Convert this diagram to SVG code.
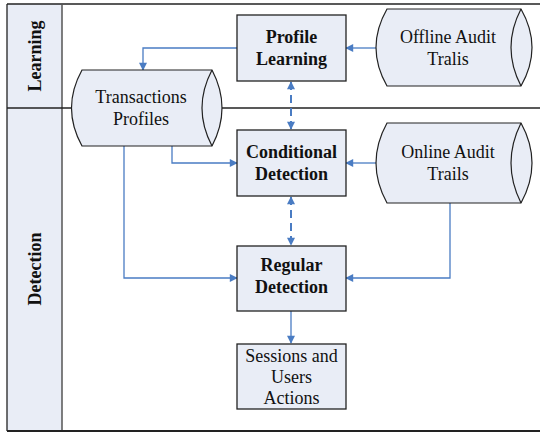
<svg xmlns="http://www.w3.org/2000/svg" width="540" height="433" viewBox="0 0 540 433">
  <defs>
    <marker id="arr" viewBox="0 0 10 10" refX="9" refY="5" markerWidth="9" markerHeight="8" markerUnits="userSpaceOnUse" orient="auto-start-reverse">
      <path d="M0,0 L10,5 L0,10 z" fill="#4a7cc3"/>
    </marker>
    <style>
      .lane { fill: #e9edf6; stroke: none; }
      .frame { stroke: #222; stroke-width: 1.3; fill: none; }
      .box { fill: #e9edf6; stroke: #222; stroke-width: 1.3; }
      .cyl { fill: #e9edf6; stroke: #222; stroke-width: 1.2; }
      .cap { fill: none; stroke: #222; stroke-width: 1.2; }
      .flow { fill: none; stroke: #4a7cc3; stroke-width: 1.3; marker-end: url(#arr); }
      .dash { fill: none; stroke: #4a7cc3; stroke-width: 2; stroke-dasharray: 8 5; marker-start: url(#arr); marker-end: url(#arr); }
      text { font-family: "Liberation Serif", "DejaVu Serif", serif; font-size: 18px; fill: #111; text-anchor: middle; }
      .b { font-weight: bold; }
    </style>
  </defs>

  <!-- swimlane frame -->
  <g id="lanes">
    <rect class="lane" x="7" y="4" width="55" height="427"/>
    <line class="frame" x1="7" y1="4" x2="540" y2="4"/>
    <line class="frame" x1="7" y1="4" x2="7" y2="431"/>
    <line x1="62" y1="4" x2="62" y2="431" stroke="#555" stroke-width="1.5"/>
    <line class="frame" x1="7" y1="108" x2="540" y2="108"/>
    <line x1="7" y1="431" x2="540" y2="431" stroke="#222" stroke-width="2.2"/>
    <text class="b" transform="translate(41,56) rotate(-90)">Learning</text>
    <text class="b" transform="translate(41,269) rotate(-90)">Detection</text>
  </g>

  <!-- connectors -->
  <g id="connectors">
    <polyline class="flow" points="237,48 143,48 143,70"/>
    <line class="flow" x1="377" y1="48" x2="346" y2="48"/>
    <line class="dash" x1="291" y1="82" x2="291" y2="129"/>
    <line class="flow" x1="377" y1="163" x2="346" y2="163"/>
    <polyline class="flow" points="172,146 172,163 237,163"/>
    <polyline class="flow" points="124,146 124,278 237,278"/>
    <polyline class="flow" points="450,203 450,278 346,278"/>
    <line class="dash" x1="291" y1="197" x2="291" y2="245"/>
    <line class="flow" x1="291" y1="311" x2="291" y2="343"/>
  </g>

  <g id="profile-learning">
    <rect class="box" x="237" y="15" width="109" height="66"/>
    <text class="b" x="291.5" y="43">Profile</text>
    <text class="b" x="291.5" y="65">Learning</text>
  </g>

  <g id="offline-audit-trails">
    <path class="cyl" d="M387,9 L521,9 Q543,47.5 521,86 L387,86 Q365,47.5 387,9 z"/>
    <path class="cap" d="M521,9 Q501,47.5 521,86"/>
    <text x="448" y="43">Offline Audit</text>
    <text x="448" y="65">Tralis</text>
  </g>

  <g id="transactions-profiles">
    <path class="cyl" d="M82,70 L212,70 Q232,108 212,146 L82,146 Q61,108 82,70 z"/>
    <path class="cap" d="M212,70 Q192,108 212,146"/>
    <text x="141" y="103">Transactions</text>
    <text x="141" y="125">Profiles</text>
  </g>

  <g id="conditional-detection">
    <rect class="box" x="237" y="130" width="109" height="66"/>
    <text class="b" x="291.5" y="158">Conditional</text>
    <text class="b" x="291.5" y="180">Detection</text>
  </g>

  <g id="online-audit-trails">
    <path class="cyl" d="M387,123 L521,123 Q543,163 521,203 L387,203 Q365,163 387,123 z"/>
    <path class="cap" d="M521,123 Q501,163 521,203"/>
    <text x="448" y="158">Online Audit</text>
    <text x="448" y="180">Trails</text>
  </g>

  <g id="regular-detection">
    <rect class="box" x="237" y="246" width="109" height="65"/>
    <text class="b" x="291.5" y="271">Regular</text>
    <text class="b" x="291.5" y="293">Detection</text>
  </g>

  <g id="sessions-actions">
    <rect class="box" x="237" y="344" width="109" height="65"/>
    <text x="291.5" y="362">Sessions and</text>
    <text x="291.5" y="383">Users</text>
    <text x="291.5" y="404">Actions</text>
  </g>
</svg>
